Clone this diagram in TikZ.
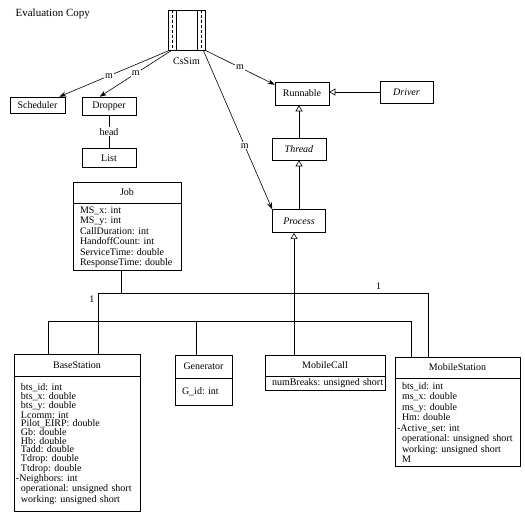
\documentclass[tikz,border=0pt]{standalone}
\usepackage{fontspec}
\setmainfont{Liberation Serif}
\usetikzlibrary{arrows.meta,positioning}
\newcommand{\feld}[1]{\hspace*{5pt}\mbox{#1}}
\lineskiplimit=-5pt
\frenchspacing

\begin{document}
\begin{tikzpicture}[x=1pt,y=1pt,line width=.6pt,
	schrift/.style={font=\fontsize{10}{10.5}\selectfont},
	klasse/.style={draw,rectangle,inner sep=0pt,schrift},
	attribute/.style={draw,rectangle,align=left,inner xsep=2pt,inner ysep=1pt,schrift},
	assoziation/.style={-{Stealth[length=7pt,width=5pt]}},
	vererbung/.style={-{Triangle[open,length=6pt,width=7pt]}},
	rolle/.style={pos=.5,fill=white,inner sep=1pt,schrift}]

\useasboundingbox (0,0) rectangle (525,-512);

\node [anchor=west,font=\fontsize{11}{11}\selectfont] (hinweis) at (12,-14) {Evaluation Copy};

%-------------------------------------------------------------------------------
% Simulation
%-------------------------------------------------------------------------------
\node (cssim) [draw,rectangle,minimum width=37pt,minimum height=40pt] at (186.5,-30) {};
\draw ([xshift=9pt]cssim.north west) -- ([xshift=9pt]cssim.south west);
\draw ([xshift=-8pt]cssim.north east) -- ([xshift=-8pt]cssim.south east);
\draw [densely dashed,line width=.4pt] ([xshift=4.5pt]cssim.north west) -- ([xshift=4.5pt]cssim.south west);
\draw [densely dashed,line width=.4pt] ([xshift=-4pt]cssim.north east) -- ([xshift=-4pt]cssim.south east);
\node (cssimname) [schrift,below=4pt of cssim] {CsSim};

\node (scheduler) [klasse,minimum width=55pt,minimum height=16pt] at (37.5,-105) {Scheduler};
\node (dropper) [klasse,minimum width=54pt,minimum height=18pt] at (109,-106) {Dropper};
\node (list) [klasse,minimum width=54pt,minimum height=19pt,below=33pt of dropper] {List};
\draw (dropper) -- node [rolle] {head} (list);

%-------------------------------------------------------------------------------
% Threads
%-------------------------------------------------------------------------------
\node (runnable) [klasse,minimum width=54pt,minimum height=23pt] at (302,-93.5) {Runnable};
\node (driver) [klasse,minimum width=53pt,minimum height=22pt] at (406.5,-92) {\textit{Driver}};
\node (thread) [klasse,minimum width=54pt,minimum height=22pt] at (299,-149) {\textit{Thread}};
\node (process) [klasse,minimum width=53pt,minimum height=23pt,below=49pt of thread] {\textit{Process}};

\draw [vererbung] (thread.north) -- (thread.north |- runnable.south);
\draw [vererbung] (process.north) -- (process.north |- thread.south);
\draw [vererbung] (driver.west) -- (driver.west -| runnable.east);

\draw [assoziation] ([xshift=2pt]cssim.south west) -- node [rolle,pos=.55] {m} ([xshift=-6pt]scheduler.north east);
\draw [assoziation] ([xshift=4pt]cssim.south west) -- node [rolle] {m} ([xshift=18pt]dropper.north west);
\draw [assoziation] (cssim.south east) -- node [rolle] {m} ([yshift=-3pt]runnable.north west);
\draw [assoziation] ([xshift=-2pt]cssim.south east) -- node [rolle,pos=.6] {m} (process.north west);

%-------------------------------------------------------------------------------
% Job
%-------------------------------------------------------------------------------
\node (job) [klasse,minimum width=108pt,minimum height=21pt] at (127,-192.5) {Job};
\node (jobattr) [attribute,text width=104pt,minimum height=67pt,below=0pt of job]
	{\feld{MS\_x: int}\\\feld{MS\_y: int}\\\feld{CallDuration: int}\\\feld{HandoffCount: int}\\\feld{ServiceTime: double}\\\feld{ResponseTime: double}};

%-------------------------------------------------------------------------------
% Prozesse
%-------------------------------------------------------------------------------
\node (basestation) [klasse,minimum width=126pt,minimum height=22pt] at (77,-365) {BaseStation};
\node (bsattr) [attribute,text width=122pt,minimum height=135pt,below=0pt of basestation,
	font=\fontsize{10}{8.7}\selectfont]
	{\feld{bts\_id: int}\\\feld{bts\_x: double}\\\feld{bts\_y: double}\\\feld{Lcomm: int}\\\feld{Pilot\_EIRP: double}\\\feld{Gb: double}\\\feld{Hb: double}\\\feld{Tadd: double}\\\feld{Tdrop: double}\\\feld{Ttdrop: double}\\-Neighbors: int\\\feld{operational: unsigned short}\\\feld{working: unsigned short}};

\node (generator) [klasse,minimum width=57pt,minimum height=23pt] at (203.5,-366.5) {Generator};
\node (genattr) [attribute,text width=53pt,minimum height=27pt,below=0pt of generator] {\feld{G\_id: int}};

\node (mobilecall) [klasse,minimum width=120pt,minimum height=21pt] at (325,-365.5) {MobileCall};
\node (mcattr) [attribute,text width=116pt,minimum height=14pt,below=0pt of mobilecall] {\feld{numBreaks: unsigned short}};

\node (mobilestation) [klasse,minimum width=125pt,minimum height=21pt] at (457.5,-367.5) {MobileStation};
\node (msattr) [attribute,text width=121pt,minimum height=88pt,below=0pt of mobilestation]
	{\feld{bts\_id: int}\\\feld{ms\_x: double}\\\feld{ms\_y: double}\\\feld{Hm: double}\\-Active\_set: int\\\feld{operational: unsigned short}\\\feld{working: unsigned short}\\\feld{M}};

% Vererbung von Process
\coordinate (g1) at (48,-321);
\coordinate (g2) at (196,-321);
\coordinate (g3) at (294,-321);
\coordinate (g4) at (411,-321);
\draw [vererbung] (g3) -- (g3 |- process.south);
\draw (g1) -- (g4);
\draw (g1) -- (g1 |- basestation.north);
\draw (g2) -- (g2 |- generator.north);
\draw (g3) -- (g3 |- mobilecall.north);
\draw (g4) -- (g4 |- mobilestation.north);

% Job-Zuordnung
\coordinate (j0) at (121,-293);
\coordinate (j1) at (98,-293);
\coordinate (j2) at (428,-293);
\draw (j0 |- jobattr.south) -- (j0);
\draw (j1) -- node [schrift,pos=.85,above] {1} (j2);
\draw (j1) -- node [schrift,pos=.1,left] {1} (j1 |- basestation.north);
\draw (j2) -- (j2 |- mobilestation.north);
\end{tikzpicture}
\end{document}
